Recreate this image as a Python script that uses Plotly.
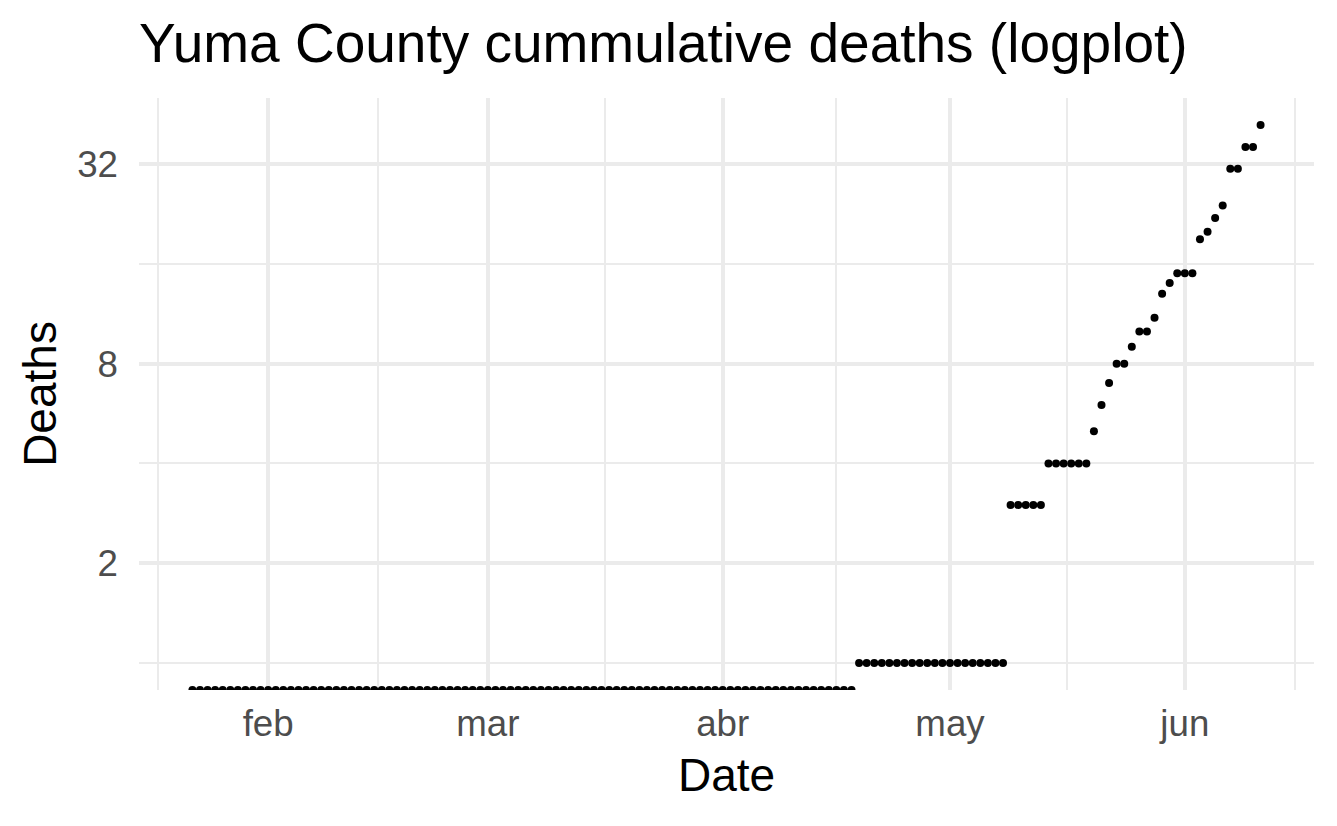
import math

import pandas as pd
import plotly.graph_objects as go

# daily cumulative deaths, Yuma County, 2020-01-22 .. 2020-06-11
dates = pd.date_range("2020-01-22", "2020-06-11", freq="D")
deaths = [
    # jan 22 - jan 31
    0, 0, 0, 0, 0, 0, 0, 0, 0, 0,
    # feb
    0, 0, 0, 0, 0, 0, 0, 0, 0, 0, 0, 0, 0, 0, 0, 0, 0, 0, 0, 0,
    0, 0, 0, 0, 0, 0, 0, 0, 0,
    # mar
    0, 0, 0, 0, 0, 0, 0, 0, 0, 0, 0, 0, 0, 0, 0, 0, 0, 0, 0, 0,
    0, 0, 0, 0, 0, 0, 0, 0, 0, 0, 0,
    # apr
    0, 0, 0, 0, 0, 0, 0, 0, 0, 0, 0, 0, 0, 0, 0, 0, 0, 0,
    1, 1, 1, 1, 1, 1, 1, 1, 1, 1, 1, 1,
    # may
    1, 1, 1, 1, 1, 1, 1, 1,
    3, 3, 3, 3, 3,
    4, 4, 4, 4, 4, 4,
    5, 6, 7, 8, 8, 9, 10, 10, 11, 13, 14, 15,
    # jun
    15, 15, 19, 20, 22, 24, 31, 31, 36, 36, 42,
]

month_ticks = ["2020-02-01", "2020-03-01", "2020-04-01", "2020-05-01", "2020-06-01"]
month_labels = ["feb", "mar", "abr", "may", "jun"]
month_minor = ["2020-01-17 12:00", "2020-02-15 12:00", "2020-03-16 12:00",
               "2020-04-16", "2020-05-16 12:00", "2020-06-15 12:00"]
y_ticks = [2, 8, 32]
y_minor = [1, 4, 16]

# ggplot-like 5% expansion
x_span = dates[-1] - dates[0]
x_range = [dates[0] - x_span * 0.05, dates[-1] + x_span * 0.05]
pos = [math.log2(d) for d in deaths if d > 0]
lo, hi = min(pos), max(pos)
y_lo = lo - (hi - lo) * 0.05
y_hi = hi + (hi - lo) * 0.05
# zeros (-Inf on log scale) sit on the panel edge, as in ggplot
y_plot = [d if d > 0 else 2 ** y_lo for d in deaths]

grid = "#EBEBEB"
fnt = "Liberation Sans, Arial, sans-serif"

fig = go.Figure()
fig.add_trace(go.Scatter(
    x=dates, y=y_plot, mode="markers",
    marker=dict(color="black", size=8),
    cliponaxis=True, showlegend=False,
))

# page body has an 8px margin, so the figure is a bit smaller
fig.update_layout(
    width=1329, height=818,
    margin=dict(l=131, r=23, t=90, b=136),
    paper_bgcolor="white", plot_bgcolor="white",
    font=dict(family=fnt),
    title=dict(
        text="Yuma County cummulative deaths (logplot)",
        font=dict(size=55, color="black"),
        x=0, xref="paper", xanchor="left",
        y=1 - 35 / 818, yref="container", yanchor="middle",
    ),
)

fig.update_xaxes(
    range=x_range,
    tickmode="array", tickvals=month_ticks, ticktext=month_labels,
    tickfont=dict(size=36.7, color="#4D4D4D"),
    ticklabelstandoff=8,
    showgrid=True, gridcolor=grid, gridwidth=4,
    minor=dict(tickmode="array", tickvals=month_minor, showgrid=True,
               gridcolor=grid, gridwidth=2.2),
    showline=False, zeroline=False, ticks="",
    title=dict(text="Date", font=dict(size=46, color="black"), standoff=16),
)

fig.update_yaxes(
    type="log",
    range=[y_lo * math.log10(2), y_hi * math.log10(2)],
    tickmode="array", tickvals=y_ticks, ticktext=[str(v) for v in y_ticks],
    tickfont=dict(size=36.7, color="#4D4D4D"),
    ticklabelstandoff=20,
    showgrid=True, gridcolor=grid, gridwidth=4,
    minor=dict(tickmode="array", tickvals=y_minor, showgrid=True,
               gridcolor=grid, gridwidth=2.2),
    showline=False, zeroline=False, ticks="",
    title=dict(text="Deaths", font=dict(size=46, color="black"), standoff=6),
)

fig.write_html("out.html")
